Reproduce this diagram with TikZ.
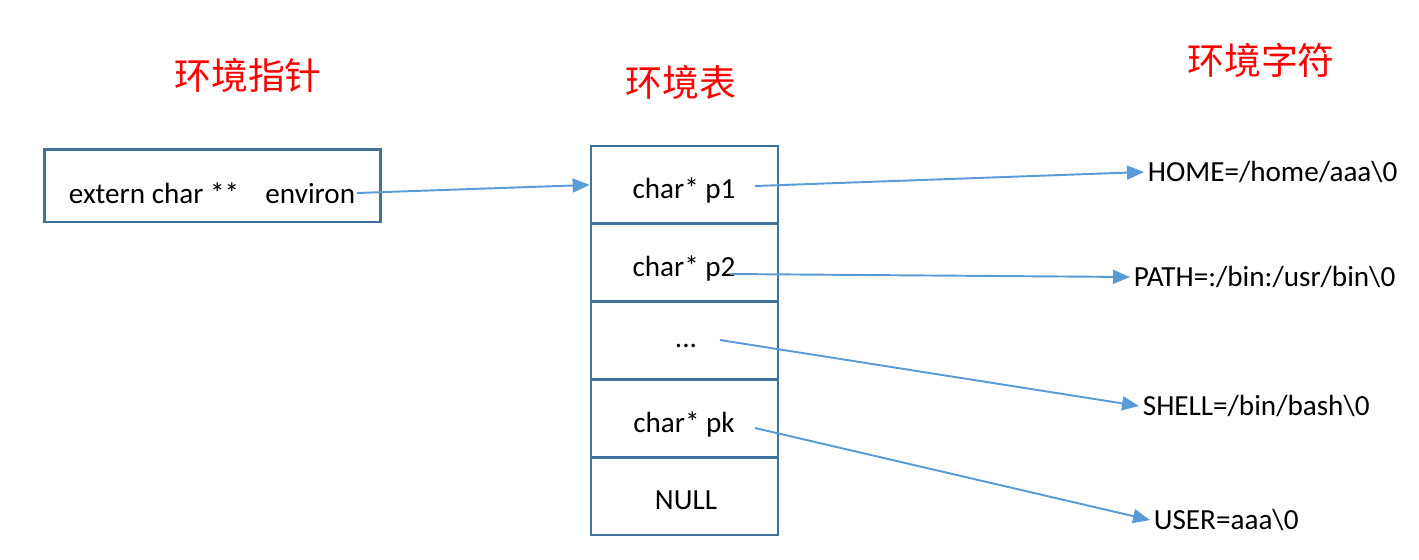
\documentclass[tikz,border=0pt]{standalone}
\usepackage{fontspec}
\setmainfont{Carlito}
\newfontfamily\cjk{Noto Sans CJK SC}
\usetikzlibrary{arrows.meta,positioning}
\definecolor{boxblue}{HTML}{41719C}
\definecolor{linkblue}{HTML}{5B9BD5}
\tikzset{>={Triangle[width=2.8mm,length=3.4mm]}}
\tikzset{every node/.style={font=\fontsize{16.6}{20}\selectfont}}

\begin{document}
\begin{tikzpicture}[x=0.02cm, y=-0.02cm]
  \tikzstyle{heading}=[font=\cjk\fontsize{21}{25}\selectfont, text=red]
  \tikzstyle{cell}=[draw=boxblue, line width=1.6pt, minimum width=3.74cm, minimum height=1.556cm, inner sep=0pt]
  \tikzstyle{link}=[->, draw=linkblue, line width=1.1pt]
  \tikzstyle{envstr}=[anchor=west, inner sep=2pt]
  \useasboundingbox (0,0) rectangle (1419,559);

  % titles
  \node[heading](h1) at (248,75) {环境指针};
  \node[heading](h2) at (681,82) {环境表};
  \node[heading](h3) at (1261,60) {环境字符};

  % pointer
  \node(ptr) [draw=boxblue, line width=1.7pt, minimum width=6.74cm, minimum height=1.46cm] at (212.5,185.5) {};
  \node(ptrtxt) at (212,193) {extern char **\hspace{0.9em}environ};

  % table
  \node(c1) [cell] at (684.5,184.9) {};
  \node(c2) [cell] at (684.5,262.7) {};
  \node(c3) [cell] at (684.5,340.5) {};
  \node(c4) [cell] at (684.5,418.3) {};
  \node(c5) [cell] at (684.5,496.1) {};
  \node(t1) at (684,190) {char* p1};
  \node(t2) at (684,268) {char* p2};
  \node(t3) at (686,346) {...};
  \node(t4) at (684,424) {char* pk};
  \node(t5) at (686,500) {NULL};

  % strings
  \node(home) [envstr] at (1144,172) {HOME=/home/aaa\textbackslash 0};
  \node(path) [envstr] at (1130,277) {PATH=:/bin:/usr/bin\textbackslash 0};
  \node(shell) [envstr] at (1139,406) {SHELL=/bin/bash\textbackslash 0};
  \node(user) [envstr] at (1150,520) {USER=aaa\textbackslash 0};

  \coordinate(s0) at (357,193);
  \coordinate(s1) at (755,186);
  \coordinate(s2) at (730,274);
  \coordinate(s3) at (720,340);
  \coordinate(s4) at (755,428);

  \draw [link] (s0) -- (c1.west);
  \draw [link] (s1) -- (home.west);
  \draw [link] (s2) -- (path.west);
  \draw [link] (s3) -- (shell.west);
  \draw [link] (s4) -- (user.west);

\end{tikzpicture}
\end{document}
